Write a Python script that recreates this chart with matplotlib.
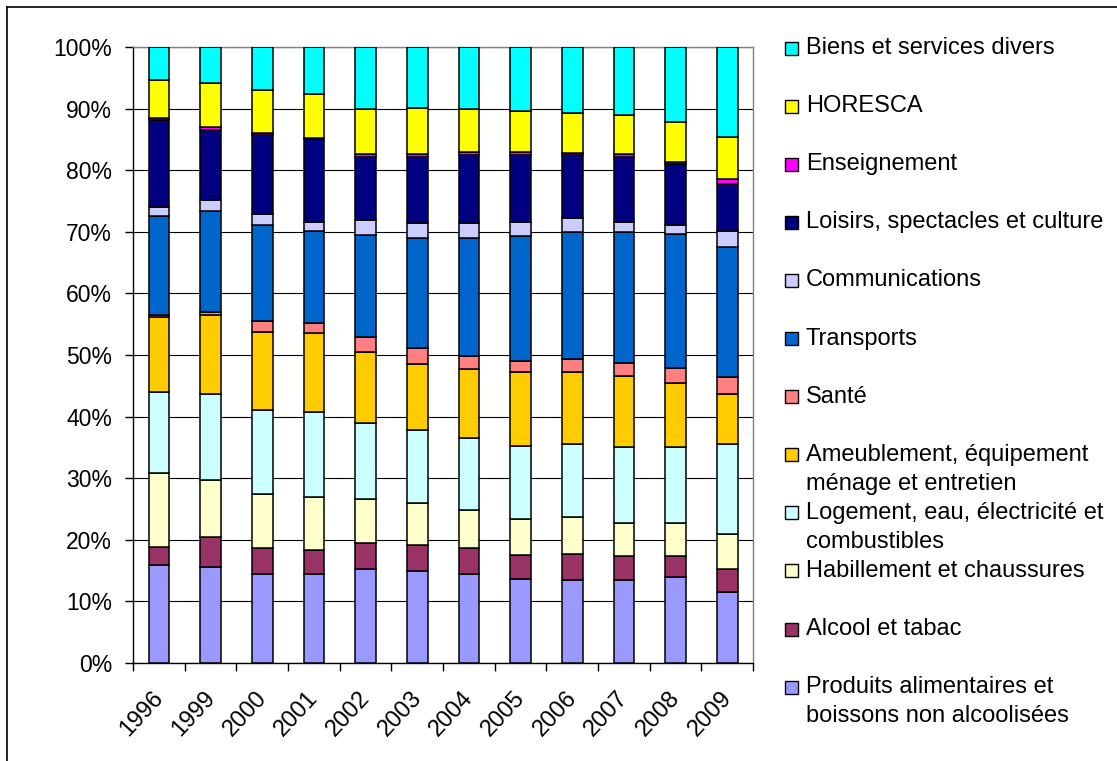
import matplotlib
matplotlib.use("Agg")
import matplotlib.pyplot as plt
from matplotlib.patches import Rectangle
from matplotlib.lines import Line2D
import matplotlib.transforms as mtrans
import numpy as np

plt.rcParams['font.family'] = ['Liberation Sans', 'DejaVu Sans']

years = ['1996', '1999', '2000', '2001', '2002', '2003', '2004', '2005',
         '2006', '2007', '2008', '2009']

produits = [15.9, 15.6, 14.4, 14.4, 15.3, 15.0, 14.4, 13.6, 13.5, 13.5, 13.9, 11.5]
alcool = [3.0, 4.9, 4.2, 3.9, 4.2, 4.2, 4.2, 3.9, 4.2, 3.9, 3.5, 3.8]
habillement = [11.9, 9.2, 8.9, 8.7, 7.2, 6.8, 6.2, 5.9, 6.0, 5.4, 5.4, 5.7]
logement = [13.2, 14.0, 13.5, 13.7, 12.2, 11.9, 11.7, 11.9, 11.9, 12.2, 12.2, 14.6]
ameublement = [12.1, 12.8, 12.8, 12.8, 11.6, 10.7, 11.3, 12.0, 11.6, 11.6, 10.5, 8.1]
sante = [0.4, 0.5, 1.8, 1.7, 2.5, 2.5, 2.1, 1.7, 2.1, 2.1, 2.4, 2.7]
transports = [16.1, 16.4, 15.5, 15.0, 16.5, 17.9, 19.1, 20.3, 20.6, 21.2, 21.7, 21.1]
communications = [1.5, 1.8, 1.8, 1.4, 2.4, 2.4, 2.4, 2.3, 2.3, 1.7, 1.5, 2.6]
loisirs = [14.0, 11.3, 12.8, 13.5, 10.3, 10.8, 11.1, 10.9, 10.3, 10.6, 9.9, 7.6]
enseignement = [0.4, 0.5, 0.4, 0.2, 0.4, 0.4, 0.4, 0.4, 0.3, 0.4, 0.3, 0.8]
horesca = [6.2, 7.1, 7.0, 7.0, 7.3, 7.5, 7.0, 6.7, 6.5, 6.4, 6.6, 6.9]
biens = [5.3, 5.9, 6.9, 7.7, 10.1, 9.9, 10.1, 10.4, 10.7, 11.0, 12.1, 14.6]

series_names = [
    'Produits alimentaires et\nboissons non alcoolisées',
    'Alcool et tabac',
    'Habillement et chaussures',
    'Logement, eau, électricité et\ncombustibles',
    'Ameublement, équipement\nménage et entretien',
    'Santé',
    'Transports',
    'Communications',
    'Loisirs, spectacles et culture',
    'Enseignement',
    'HORESCA',
    'Biens et services divers',
]
series_values = [produits, alcool, habillement, logement, ameublement, sante,
                 transports, communications, loisirs, enseignement, horesca, biens]
series_colors = ['#9999FF', '#993366', '#FFFFCC', '#CCFFFF', '#FFCC00', '#FF8080',
                 '#0066CC', '#CCCCFF', '#000080', '#FF00FF', '#FFFF00', '#00FFFF']

W, H = 1117, 761
fig = plt.figure(figsize=(W / 100, H / 100), dpi=100)

# plot area in pixels
L, R, T, B = 133, 753, 47, 663
ax = fig.add_axes([L / W, 1 - B / H, (R - L) / W, (B - T) / H])

x = np.arange(len(years))
bottom = np.zeros(len(years))
for vals, col in zip(series_values, series_colors):
    v = np.array(vals, dtype=float)
    ax.bar(x, v, width=0.4, bottom=bottom, color=col, edgecolor='black',
           linewidth=1.1, zorder=3)
    bottom += v

ax.set_xlim(-0.5, len(years) - 0.5)
ax.set_ylim(0, 100)
ax.set_yticks(np.arange(0, 101, 10))
ax.set_yticklabels([f'{t}%' for t in range(0, 101, 10)])
ax.yaxis.grid(True, color='black', linewidth=0.8, zorder=0)
ax.set_axisbelow(True)

ax.set_xticks(np.arange(-0.5, len(years), 1.0))
ax.set_xticklabels([])
ax.set_xticks(x, minor=True)
ax.set_xticklabels(years, minor=True, rotation=47, ha='right', va='top',
                   fontsize=17)
ax.tick_params(axis='x', which='minor', length=0, pad=17)
ax.tick_params(axis='x', which='major', length=6, width=1, color='black',
               direction='out')
ax.tick_params(axis='y', length=6, width=1, direction='out', pad=9,
               labelsize=16.5)

for s in ['left', 'bottom']:
    ax.spines[s].set_color('black')
    ax.spines[s].set_linewidth(1.0)
for s in ['top', 'right']:
    ax.spines[s].set_color('#808080')
    ax.spines[s].set_linewidth(1.0)

# shift x labels so their right end sits near bar centre
offset = mtrans.ScaledTranslation(9 / 100, 0, fig.dpi_scale_trans)
for lab in ax.xaxis.get_minorticklabels():
    lab.set_transform(lab.get_transform() + offset)

# legend drawn manually (top entry is last series)
y0, dy = 48, 58.1
for i, idx in enumerate(range(len(series_names) - 1, -1, -1)):
    yc = y0 + i * dy
    sq = 13
    fig.patches.append(Rectangle(((785) / W, 1 - (yc + sq / 2) / H), sq / W, sq / H,
                                 transform=fig.transFigure, facecolor=series_colors[idx],
                                 edgecolor='black', linewidth=1.0))
    lines = series_names[idx].split('\n')
    for j, line in enumerate(lines):
        fig.text(806 / W, 1 - (yc + j * 29) / H, line, ha='left', va='center',
                 fontsize=17)

# chart area border (left and top visible)
fig.add_artist(Line2D([7 / W, 7 / W], [0, 1 - 7 / H], transform=fig.transFigure,
                      color='black', linewidth=1.2))
fig.add_artist(Line2D([7 / W, 1], [1 - 7 / H, 1 - 7 / H], transform=fig.transFigure,
                      color='black', linewidth=1.2))

fig.savefig('out.png', dpi=100)
